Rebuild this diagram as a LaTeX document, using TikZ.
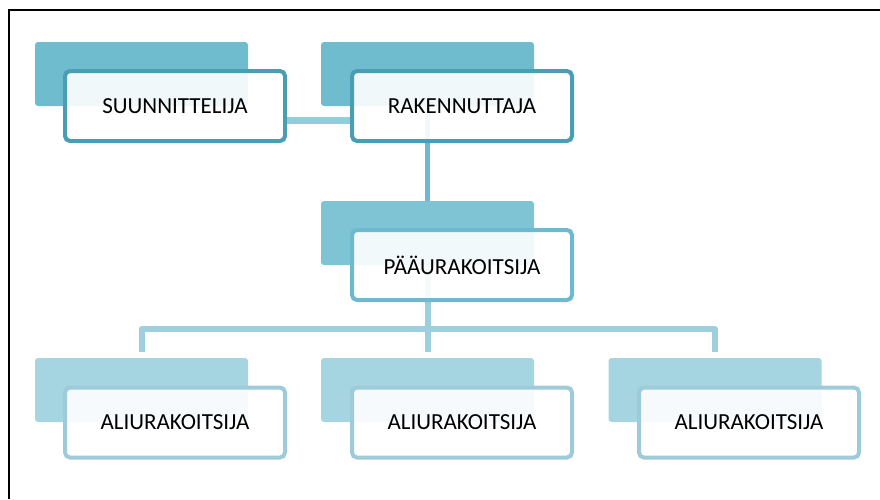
\documentclass[tikz,border=0pt]{standalone}
\usepackage{fontspec}
\setmainfont{Carlito}
\usetikzlibrary{backgrounds}
\definecolor{backA}{RGB}{112,188,207}
\definecolor{bordA}{RGB}{75,157,180}
\definecolor{backB}{RGB}{126,196,212}
\definecolor{bordB}{RGB}{110,185,205}
\definecolor{backC}{RGB}{166,213,226}
\definecolor{bordC}{RGB}{158,203,218}
\definecolor{linkA}{RGB}{146,205,220}
\definecolor{linkB}{RGB}{112,185,205}
\definecolor{linkC}{RGB}{158,207,222}
\tikzset{
  backbox/.style={rectangle, rounded corners=3pt, minimum width=213pt, minimum height=64pt, inner sep=0pt},
  frontbox/.style={rectangle, rounded corners=5pt, line width=4pt, fill=white, fill opacity=0.9, text opacity=1,
    minimum width=220pt, minimum height=70pt, inner sep=0pt, font=\fontsize{23}{26}\selectfont},
  frameline/.style={line width=2pt, black}
}
\begin{document}
\begin{tikzpicture}[x=1pt,y=-1pt]
\useasboundingbox (0,0) rectangle (880,499);
\draw[frameline] (9,499) -- (9,10) -- (880,10);
% back rectangles
\node[backbox, fill=backA] (sb) at (141.5,74) {};
\node[backbox, fill=backA] (rb) at (427.5,74) {};
\node[backbox, fill=backB] (pb) at (427.5,233) {};
\node[backbox, fill=backC] (a1b) at (141.5,390) {};
\node[backbox, fill=backC] (a2b) at (427.5,390) {};
\node[backbox, fill=backC] (a3b) at (715,390) {};
% connectors behind
\begin{scope}[on background layer]
\draw[linkB, line width=5.5pt] (rb.center) -- (pb.center);
\coordinate (j) at (427.5,329);
\draw[linkC, line width=6pt] (pb.center) -- (j);
\draw[linkC, line width=6pt, line join=round] ([yshift=6pt]a1b.north) -- (a1b.north |- j) -- (a3b.north |- j) -- ([yshift=6pt]a3b.north);
\draw[linkC, line width=6pt] (j) -- ([yshift=6pt]a2b.north);
\end{scope}
% front boxes
\node[frontbox, draw=bordA] (s) at (175,106) {SUUNNITTELIJA};
\node[frontbox, draw=bordA] (r) at (462,106) {RAKENNUTTAJA};
\node[frontbox, draw=bordB] (p) at (462,265) {PÄÄURAKOITSIJA};
\node[frontbox, draw=bordC] (a1) at (175,422.5) {ALIURAKOITSIJA};
\node[frontbox, draw=bordC] (a2) at (462,422.5) {ALIURAKOITSIJA};
\node[frontbox, draw=bordC] (a3) at (749,422.5) {ALIURAKOITSIJA};
\draw[linkA, line width=7pt] ([yshift=-14pt]s.east) -- ([yshift=-14pt]r.west);
\end{tikzpicture}
\end{document}
